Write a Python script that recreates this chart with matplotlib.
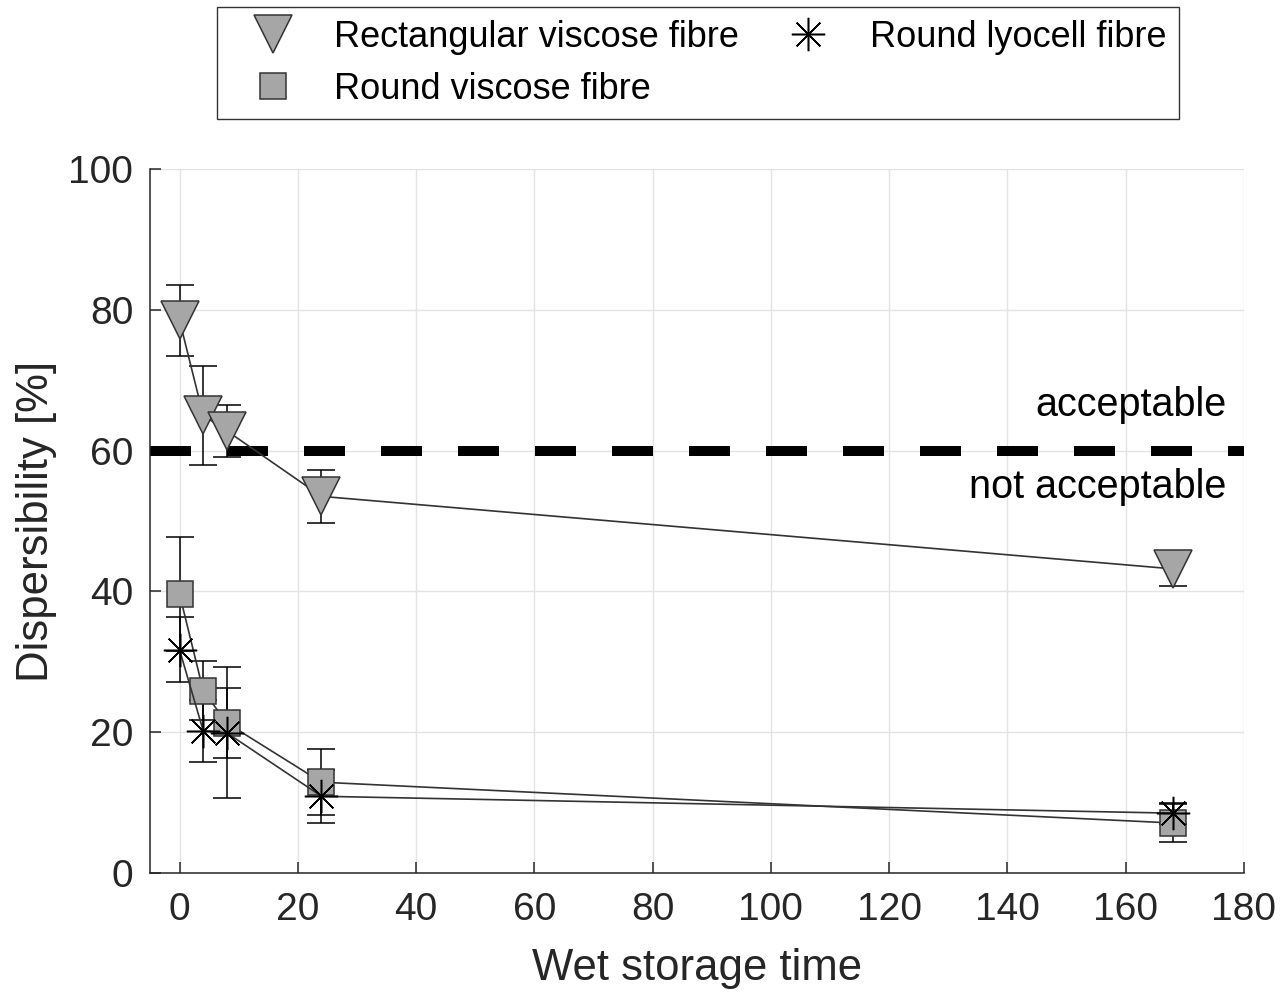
import matplotlib
matplotlib.use("Agg")
import matplotlib.pyplot as plt
from matplotlib.lines import Line2D

plt.rcParams["font.family"] = ["Liberation Sans", "DejaVu Sans"]

# wet storage time and dispersibility readings
t = [0, 4, 8, 24, 168]
rect_viscose = [78.5, 65.0, 62.8, 53.5, 43.2]
rect_viscose_err = [5.0, 7.0, 3.7, 3.8, 2.5]
round_viscose = [39.6, 25.9, 21.3, 12.9, 7.1]
round_viscose_err = [8.1, 4.2, 5.0, 4.7, 2.7]
round_lyocell = [31.7, 20.2, 19.9, 10.9, 8.5]
round_lyocell_err = [4.6, 4.4, 9.3, 3.8, 1.5]
threshold = 60

labels = ["Rectangular viscose fibre", "Round viscose fibre", "Round lyocell fibre"]
xticks = [0, 20, 40, 60, 80, 100, 120, 140, 160, 180]
yticks = [0, 20, 40, 60, 80, 100]

fill = "#a6a6a6"
edge = "#333333"
ink = "#262626"
asterisk = (8, 2, 0)

fig = plt.figure(figsize=(12.84, 9.98), dpi=100)
ax = fig.add_axes([150 / 1284, 125 / 998, 1094 / 1284, 704 / 998])

common = dict(ecolor="black", elinewidth=1.1, capsize=10, capthick=1.1,
              color=edge, lw=1.2, mec=edge, mew=1.1)
ax.errorbar(t, rect_viscose, yerr=rect_viscose_err, marker="v", ms=27,
            mfc=fill, **common)
ax.errorbar(t, round_viscose, yerr=round_viscose_err, marker="s", ms=19,
            mfc=fill, **common)
ax.errorbar(t, round_lyocell, yerr=round_lyocell_err, marker=asterisk, ms=24,
            mfc="none", **{**common, "mec": "black"})

ax.axhline(threshold, color="black", lw=7.2, dashes=(4.1, 3.6),
           solid_capstyle="butt", dash_capstyle="butt", zorder=1.5)
ax.text(177, 66.5, "acceptable", ha="right", va="center", fontsize=28.5, color="black")
ax.text(177, 54.8, "not acceptable", ha="right", va="center", fontsize=28.5, color="black")

ax.set_xlim(-5, 180)
ax.set_ylim(0, 100)
ax.set_xticks(xticks)
ax.set_yticks(yticks)
ax.grid(True, color="#e3e3e3", lw=1.0)
ax.set_axisbelow(True)
for s in ["top", "right"]:
    ax.spines[s].set_visible(False)
for s in ["left", "bottom"]:
    ax.spines[s].set_color(ink)
    ax.spines[s].set_linewidth(1.1)
ax.tick_params(direction="in", length=8, width=1.1, colors=ink, labelsize=28)
ax.tick_params(axis="x", pad=14)
ax.tick_params(axis="y", pad=12)
ax.set_xlabel("Wet storage time", fontsize=31.5, color=ink, labelpad=14)
ax.set_ylabel("Dispersibility [%]", fontsize=31.5, color=ink, labelpad=8)

handles = [
    Line2D([], [], ls="none", marker="v", ms=27, mfc=fill, mec=edge, mew=1.1),
    Line2D([], [], ls="none", marker="s", ms=19, mfc=fill, mec=edge, mew=1.1),
    Line2D([], [], ls="none", marker=asterisk, ms=24, mec="black", mew=1.1),
]
leg = fig.legend(handles, labels, ncol=2, mode="expand", loc="upper left",
                 bbox_to_anchor=(217 / 1284, 1 - 114 / 998, 962 / 1284, 107 / 998),
                 fontsize=26, frameon=True, fancybox=False, edgecolor="black",
                 handlelength=2.4, handletextpad=0.5, labelspacing=0.47,
                 borderpad=0.35, borderaxespad=0)
leg.get_frame().set_linewidth(1.0)

fig.savefig("out.png", dpi=100)
